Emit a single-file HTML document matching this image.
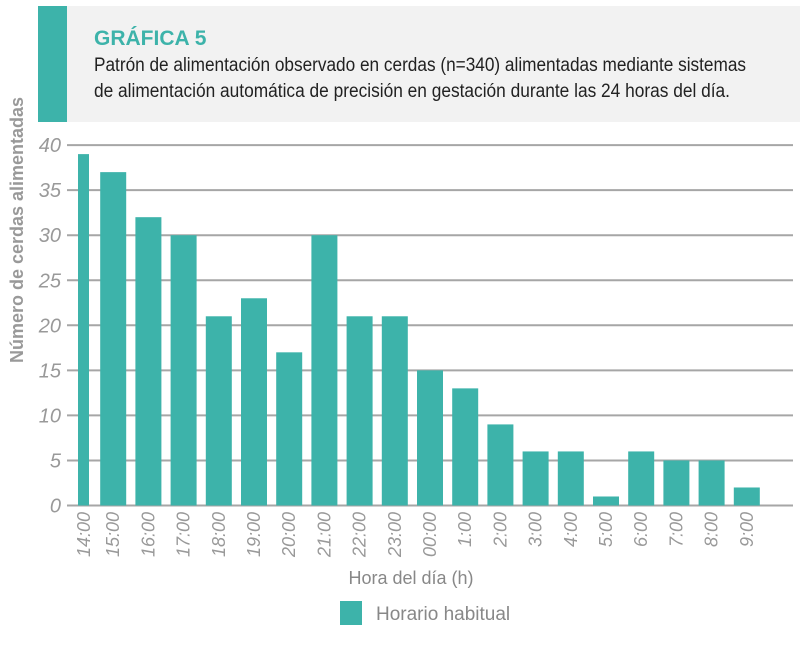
<!DOCTYPE html>
<html><head><meta charset="utf-8"><style>
body{margin:0;background:#fff;width:800px;height:643px;overflow:hidden;font-family:"Liberation Sans Narrow","Liberation Sans",sans-serif}
</style></head><body>
<svg width="800" height="643" xmlns="http://www.w3.org/2000/svg">
<rect x="38" y="6" width="762" height="116" fill="#f2f2f2"/>
<rect x="38" y="6" width="29" height="116" fill="#3db3aa"/>
<text x="94" y="45" font-size="21" font-weight="bold" fill="#3db3aa" font-family="Liberation Sans Narrow, Liberation Sans, sans-serif">GRÁFICA 5</text>
<text x="94" y="71" font-size="19" fill="#222" textLength="652" lengthAdjust="spacingAndGlyphs">Patrón de alimentación observado en cerdas (n=340) alimentadas mediante sistemas</text>
<text x="94" y="97" font-size="19" fill="#222" textLength="636" lengthAdjust="spacingAndGlyphs">de alimentación automática de precisión en gestación durante las 24 horas del día.</text>
<g id="grid"></g><g id="bars"></g><g id="xlabels"></g>
<text transform="translate(23,230) rotate(-90)" text-anchor="middle" font-size="18" font-weight="bold" fill="#999">Número de cerdas alimentadas</text>
<text x="411" y="584" text-anchor="middle" font-size="18" fill="#888">Hora del día (h)</text>
<rect x="340" y="601" width="22" height="24" fill="#3db3aa"/>
<text x="376" y="620" font-size="19" fill="#888">Horario habitual</text>
</svg>
<script>
const categories=["14:00","15:00","16:00","17:00","18:00","19:00","20:00","21:00","22:00","23:00","00:00","1:00","2:00","3:00","4:00","5:00","6:00","7:00","8:00","9:00"];
const values=[39,37,32,30,21,23,17,30,21,21,15,13,9,6,6,1,6,5,5,2];
const yTicks=[0,5,10,15,20,25,30,35,40];
const NS="http://www.w3.org/2000/svg";
const y=v=>505.5-v*9.01;
const xc=i=>78+i*35.2;
const grid=document.getElementById('grid'),bars=document.getElementById('bars'),xl=document.getElementById('xlabels');
yTicks.forEach(t=>{
 const l=document.createElementNS(NS,'line');
 l.setAttribute('x1',67);l.setAttribute('x2',793);l.setAttribute('y1',y(t));l.setAttribute('y2',y(t));
 l.setAttribute('stroke','#a6a6a6');l.setAttribute('stroke-width','2');
 
 
 grid.appendChild(l);
 const tx=document.createElementNS(NS,'text');
 tx.setAttribute('x',61);tx.setAttribute('y',y(t)+7);tx.setAttribute('text-anchor','end');
 tx.setAttribute('font-size','20');tx.setAttribute('font-style','italic');tx.setAttribute('fill','#999');
 tx.textContent=t;
 
 
 grid.appendChild(tx);
});
values.forEach((v,i)=>{
 const r=document.createElementNS(NS,'rect');
 let x0=xc(i)-13,w=26;
 if(i===0){x0=78;w=11;}
 r.setAttribute('x',x0);r.setAttribute('width',w);r.setAttribute('y',y(v));r.setAttribute('height',y(0)-y(v));
 r.setAttribute('fill','#3db3aa');
 
 
 bars.appendChild(r);
 const t=document.createElementNS(NS,'text');
 const lx=i===0?84:xc(i);
 t.setAttribute('transform','translate('+(lx+6)+',512) rotate(-90)');
 t.setAttribute('text-anchor','end');t.setAttribute('font-size','18');t.setAttribute('font-style','italic');t.setAttribute('fill','#999');
 t.textContent=categories[i];
 
 
 xl.appendChild(t);
});
</script>
</body></html>
